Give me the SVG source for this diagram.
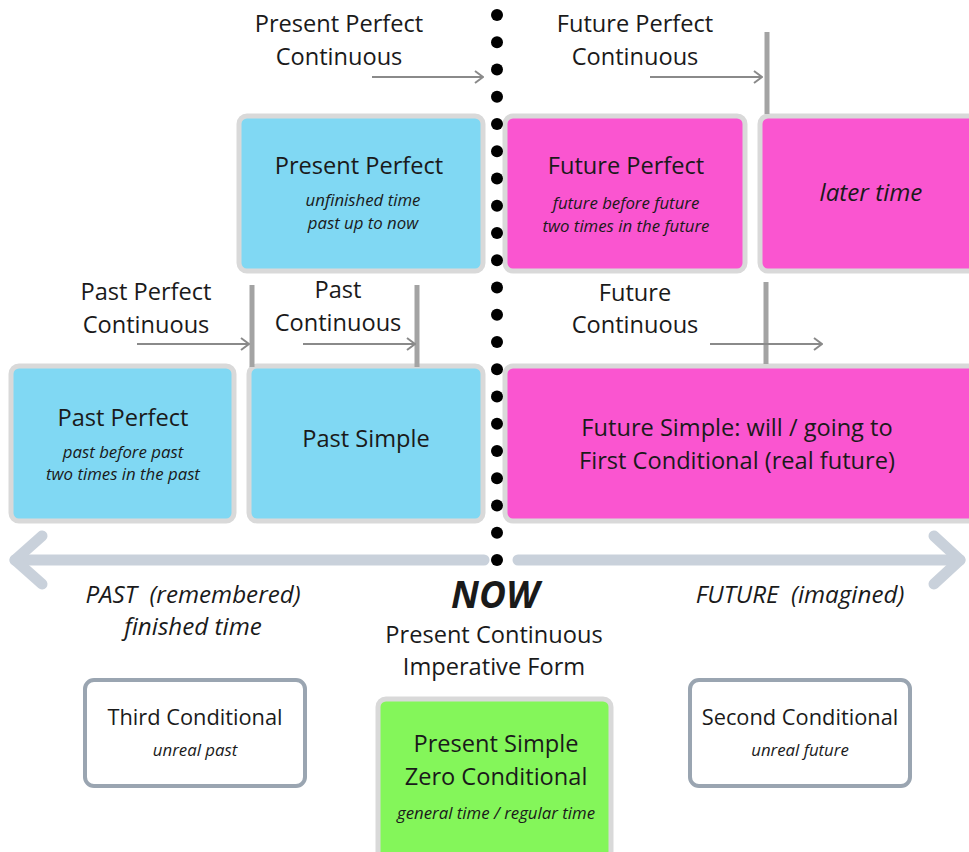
<svg xmlns="http://www.w3.org/2000/svg" width="969" height="852" viewBox="0 0 969 852">
<defs>
<style>
text{font-family:"Open Sans","Liberation Sans",sans-serif;fill:#1a1a1a;text-anchor:middle;white-space:pre}
.t{font-size:23.6px}
.tb{font-size:21.8px}
.s{font-size:16.8px;font-style:italic}
.i{font-size:24.2px;font-style:italic}
.blue{fill:#80d8f3;stroke:#d9d9d9;stroke-width:5}
.pink{fill:#fa55d0;stroke:#d9d9d9;stroke-width:5}
.green{fill:#84f65a;stroke:#d9d9d9;stroke-width:5}
.white{fill:#fff;stroke:#9aa5b1;stroke-width:4}
.bar{stroke:#a3a3a3;stroke-width:5}
.arr{stroke:#8a8a8a;stroke-width:2.2;fill:none;marker-end:url(#ah)}
.big{stroke:#c9d1db;stroke-width:11;stroke-linecap:round;stroke-linejoin:round;fill:none}
</style>
<marker id="ah" viewBox="0 0 10 14" refX="9" refY="7" markerWidth="10" markerHeight="14" markerUnits="userSpaceOnUse" orient="auto">
<path d="M1,1 L9,7 L1,13" fill="none" stroke="#8a8a8a" stroke-width="2"/>
</marker>
</defs>
<rect width="969" height="852" fill="#fff"/>

<g id="timeline">
<path class="big" d="M15,560 H484 M518,560 H960"/>
<path class="big" d="M42,536 L15,560 L42,584"/>
<path class="big" d="M934,536 L960,560 L934,584"/>
</g>

<g id="node-present-perfect">
<rect class="blue" x="239" y="116" width="244" height="155" rx="8"/>
<text class="t" x="359" y="174">Present Perfect</text>
<text class="s" x="363" y="206">unfinished time</text>
<text class="s" x="363" y="229">past up to now</text>
</g>
<g id="node-future-perfect">
<rect class="pink" x="505" y="116" width="240" height="155" rx="8"/>
<text class="t" x="626" y="174">Future Perfect</text>
<text class="s" x="626" y="209">future before future</text>
<text class="s" x="626" y="232">two times in the future</text>
</g>
<g id="node-later-time">
<rect class="pink" x="760" y="116" width="220" height="155" rx="8"/>
<text class="i" x="871" y="201">later time</text>
</g>
<g id="node-past-perfect">
<rect class="blue" x="11" y="366" width="223" height="155" rx="8"/>
<text class="t" x="123" y="426">Past Perfect</text>
<text class="s" x="123" y="458">past before past</text>
<text class="s" x="123" y="480">two times in the past</text>
</g>
<g id="node-past-simple">
<rect class="blue" x="249" y="366" width="234" height="155" rx="8"/>
<text class="t" x="366" y="447">Past Simple</text>
</g>
<g id="node-future-simple">
<rect class="pink" x="505" y="366" width="480" height="155" rx="8"/>
<text class="t" x="737" y="436">Future Simple: will / going to</text>
<text class="t" x="737" y="469">First Conditional (real future)</text>
</g>

<g id="now-dots" fill="#000">
<circle cx="497" cy="15" r="6"/><circle cx="497" cy="42.25" r="6"/><circle cx="497" cy="69.5" r="6"/><circle cx="497" cy="96.75" r="6"/><circle cx="497" cy="124" r="6"/><circle cx="497" cy="151.25" r="6"/><circle cx="497" cy="178.5" r="6"/><circle cx="497" cy="205.75" r="6"/><circle cx="497" cy="233" r="6"/><circle cx="497" cy="260.25" r="6"/><circle cx="497" cy="287.5" r="6"/><circle cx="497" cy="314.75" r="6"/><circle cx="497" cy="342" r="6"/><circle cx="497" cy="369.25" r="6"/><circle cx="497" cy="396.5" r="6"/><circle cx="497" cy="423.75" r="6"/><circle cx="497" cy="451" r="6"/><circle cx="497" cy="478.25" r="6"/><circle cx="497" cy="505.5" r="6"/><circle cx="497" cy="532.75" r="6"/><circle cx="497" cy="560" r="6"/>
</g>

<g id="connectors">
<line class="bar" x1="767" y1="32" x2="767" y2="114"/>
<line class="bar" x1="252" y1="285" x2="252" y2="367"/>
<line class="bar" x1="417" y1="285" x2="417" y2="367"/>
<line class="bar" x1="766" y1="282" x2="766" y2="364"/>
<line class="arr" x1="372" y1="77" x2="483" y2="77"/>
<line class="arr" x1="650" y1="77" x2="762" y2="77"/>
<line class="arr" x1="137" y1="344" x2="249" y2="344"/>
<line class="arr" x1="303" y1="344" x2="415" y2="344"/>
<line class="arr" x1="710" y1="344" x2="822" y2="344"/>
</g>

<g id="labels">
<text class="t" x="339" y="32">Present Perfect</text>
<text class="t" x="339" y="65">Continuous</text>
<text class="t" x="635" y="32">Future Perfect</text>
<text class="t" x="635" y="65">Continuous</text>
<text class="t" x="146" y="300">Past Perfect</text>
<text class="t" x="146" y="333">Continuous</text>
<text class="t" x="338" y="298">Past</text>
<text class="t" x="338" y="331">Continuous</text>
<text class="t" x="635" y="301">Future</text>
<text class="t" x="635" y="333">Continuous</text>
<text class="i" x="193" y="603">PAST  (remembered)</text>
<text class="i" x="193" y="635">finished time</text>
<text x="495" y="608" style="font-size:37px;font-weight:bold;font-style:italic">NOW</text>
<text class="t" x="494" y="643">Present Continuous</text>
<text class="t" x="494" y="675">Imperative Form</text>
<text class="i" x="800" y="603">FUTURE  (imagined)</text>
</g>

<g id="node-third-conditional">
<rect class="white" x="85" y="680" width="220" height="106" rx="9"/>
<text class="tb" x="195" y="725">Third Conditional</text>
<text class="s" x="195" y="756">unreal past</text>
</g>
<g id="node-present-simple">
<rect class="green" x="378" y="699" width="233" height="160" rx="8"/>
<text class="t" x="496" y="752">Present Simple</text>
<text class="t" x="496" y="785">Zero Conditional</text>
<text class="s" x="496" y="819">general time / regular time</text>
</g>
<g id="node-second-conditional">
<rect class="white" x="690" y="680" width="220" height="106" rx="9"/>
<text class="tb" x="800" y="725">Second Conditional</text>
<text class="s" x="800" y="756">unreal future</text>
</g>
</svg>
